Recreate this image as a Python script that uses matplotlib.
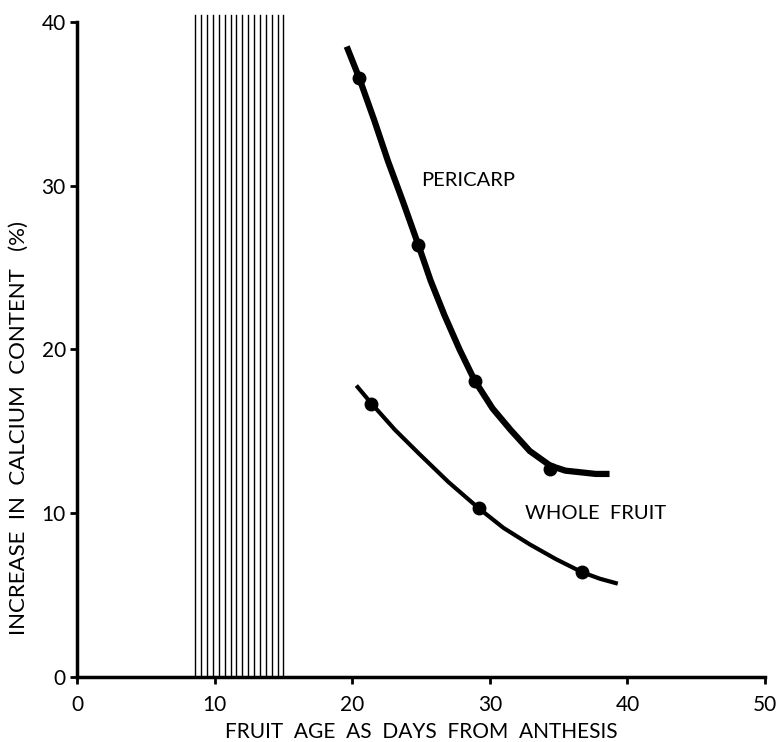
import numpy as np
import matplotlib
matplotlib.use("Agg")
import matplotlib.pyplot as plt

plt.rcParams['font.family'] = ['Lato', 'DejaVu Sans']

# hatched period (days)
hatch_start = 8.6
hatch_end = 15.0
hatch_count = 16

# pericarp: measured points and traced curve
peri_x = [20.5, 24.8, 28.9, 34.4]
peri_y = [36.6, 26.4, 18.1, 12.7]
peri_curve_x = [19.6, 20.5, 21.6, 22.6, 23.7, 24.8, 25.7, 26.7, 27.8, 28.9, 30.2, 31.5, 32.9, 34.4, 35.5, 36.6, 37.7, 38.7]
peri_curve_y = [38.5, 36.6, 34.0, 31.5, 29.0, 26.4, 24.2, 22.1, 20.0, 18.1, 16.4, 15.1, 13.8, 12.9, 12.6, 12.5, 12.4, 12.4]

# whole fruit: measured points and traced curve
whole_x = [21.4, 29.2, 36.7]
whole_y = [16.7, 10.3, 6.4]
whole_curve_x = [20.3, 21.4, 23.1, 24.9, 27.0, 29.2, 31.0, 32.9, 34.8, 36.7, 38.0, 39.3]
whole_curve_y = [17.8, 16.7, 15.1, 13.6, 11.9, 10.3, 9.1, 8.1, 7.2, 6.4, 6.0, 5.7]

x_ticks = [0, 10, 20, 30, 40, 50]
y_ticks = [0, 10, 20, 30, 40]

fig = plt.figure(figsize=(7.77, 7.42), dpi=100)
ax = fig.add_axes([0.0991, 0.0876, 0.9846 - 0.0991, 0.9704 - 0.0876])

for xv in np.linspace(hatch_start, hatch_end, hatch_count):
    ax.plot([xv, xv], [0, 40.4], color='black', lw=1.0, clip_on=False, zorder=1)

ax.plot(peri_curve_x, peri_curve_y, color='black', lw=4.5, solid_capstyle='butt',
        solid_joinstyle='round', zorder=3, clip_on=False)
ax.plot(peri_x, peri_y, 'o', color='black', ms=9, zorder=4)
ax.plot(whole_curve_x, whole_curve_y, color='black', lw=3.0, solid_capstyle='butt',
        solid_joinstyle='round', zorder=3)
ax.plot(whole_x, whole_y, 'o', color='black', ms=9, zorder=4)

ax.text(28.4, 30.3, "PERICARP", fontsize=14.5, ha='center', va='center')
ax.text(37.7, 10.0, "WHOLE  FRUIT", fontsize=14.5, ha='center', va='center')

ax.set_xlim(0, 50)
ax.set_ylim(0, 40)
ax.set_xticks(x_ticks)
ax.set_yticks(y_ticks)
ax.spines['top'].set_visible(False)
ax.spines['right'].set_visible(False)
ax.spines['left'].set_linewidth(2.5)
ax.spines['bottom'].set_linewidth(2.5)
ax.tick_params(direction='out', length=5, width=2, labelsize=15, pad=3)
ax.tick_params(axis='x', pad=8)

ax.set_xlabel("FRUIT  AGE  AS  DAYS  FROM  ANTHESIS", fontsize=15)
ax.xaxis.set_label_coords(0.5, -0.068)
ax.set_ylabel("INCREASE  IN  CALCIUM  CONTENT   (%)", fontsize=16)
ax.yaxis.set_label_coords(-0.07, 0.38)

fig.savefig("out.png", dpi=100)
